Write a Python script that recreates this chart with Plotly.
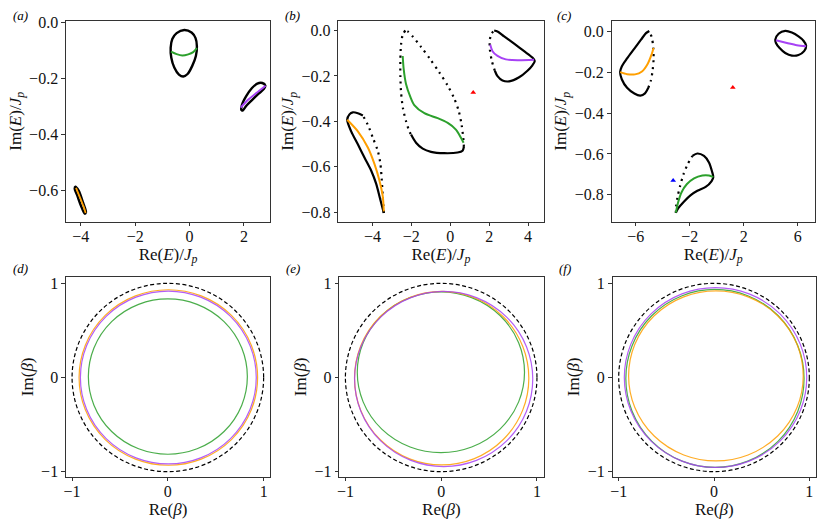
import plotly.graph_objects as go

# ---------------- top row: complex spectra E/Jp ----------------
# (a)
a_mid_x = [-0.195, 0.073, 0.22, 0.269, 0.232, 0.098, -0.073, -0.232, -0.391, -0.562, -0.672, -0.696, -0.635, -0.476, -0.195]
a_mid_y = [-0.027, -0.036, -0.056, -0.085, -0.120, -0.155, -0.184, -0.193, -0.186, -0.161, -0.126, -0.091, -0.059, -0.038, -0.027]
a_mid_gx = [-0.684, -0.476, -0.269, -0.049, 0.134, 0.269]
a_mid_gy = [-0.104, -0.113, -0.118, -0.114, -0.106, -0.092]
a_rt_x = [1.905, 1.929, 2.088, 2.295, 2.491, 2.674, 2.784, 2.735, 2.54, 2.295, 2.088, 1.954, 1.905]
a_rt_y = [-0.312, -0.293, -0.262, -0.234, -0.218, -0.216, -0.225, -0.237, -0.254, -0.277, -0.297, -0.314, -0.312]
a_rt_px = [1.88, 2.149, 2.454, 2.796]
a_rt_py = [-0.304, -0.276, -0.252, -0.226]
a_lf_x = [-4.20, -4.078, -3.919, -3.81, -3.858, -3.993, -4.139, -4.225, -4.20]
a_lf_y = [-0.586, -0.600, -0.642, -0.677, -0.682, -0.654, -0.615, -0.593, -0.586]
a_lf_ox = [-4.176, -4.029, -3.895, -3.822]
a_lf_oy = [-0.590, -0.625, -0.657, -0.680]

# (b)
b_lf_sx = [-4.492, -4.749, -5.005, -5.18, -5.297, -5.092, -4.749, -4.41, -4.067, -3.81, -3.59, -3.415]
b_lf_sy = [-0.374, -0.364, -0.360, -0.369, -0.393, -0.444, -0.501, -0.559, -0.616, -0.674, -0.746, -0.803]
b_lf_dx = [-3.415, -3.467, -3.518, -3.59, -3.723, -3.979, -4.236, -4.492]
b_lf_dy = [-0.803, -0.731, -0.660, -0.587, -0.530, -0.472, -0.415, -0.374]
b_lf_ox = [-5.297, -4.749, -4.236, -3.897, -3.641, -3.467, -3.415]
b_lf_oy = [-0.393, -0.444, -0.515, -0.587, -0.660, -0.731, -0.796]

b_mid_d1x = [-2.308, -2.444, -2.530, -2.564, -2.564, -2.530, -2.43, -2.27, -2.10, -2.015]
b_mid_d1y = [0.000, -0.019, -0.062, -0.127, -0.199, -0.271, -0.343, -0.400, -0.444, -0.458]
b_mid_sx = [-2.015, -1.759, -1.415, -0.99, -0.31, 0.376, 0.632, 0.701]
b_mid_sy = [-0.458, -0.494, -0.520, -0.534, -0.540, -0.537, -0.529, -0.512]
b_mid_d2x = [0.701, 0.667, 0.581, 0.444, 0.205, -0.137, -0.564, -1.026, -1.504, -1.932, -2.188, -2.308]
b_mid_d2y = [-0.512, -0.472, -0.414, -0.357, -0.299, -0.242, -0.184, -0.127, -0.072, -0.026, -0.004, 0.000]
b_mid_gx = [-2.444, -2.393, -2.274, -2.051, -1.85, -1.33, -0.646, -0.13, 0.29, 0.549, 0.684]
b_mid_gy = [-0.112, -0.170, -0.235, -0.292, -0.328, -0.364, -0.386, -0.407, -0.436, -0.472, -0.494]

b_rt_sx = [2.256, 2.427, 2.769, 3.282, 3.795, 4.222, 4.342, 4.222, 3.966, 3.538, 3.026, 2.684, 2.427, 2.291]
b_rt_sy = [0.000, -0.004, -0.026, -0.058, -0.091, -0.119, -0.134, -0.153, -0.177, -0.206, -0.224, -0.220, -0.201, -0.177]
b_rt_dx = [2.291, 2.137, 2.034, 2.034, 2.120, 2.256]
b_rt_dy = [-0.177, -0.134, -0.083, -0.040, -0.014, 0.000]
b_rt_px = [2.051, 2.171, 2.427, 2.855, 3.453, 4.308]
b_rt_py = [-0.062, -0.091, -0.112, -0.127, -0.131, -0.129]
b_red = (1.18, -0.273)

# (c)
c_lf_sx = [-5.000, -5.246, -5.614, -6.106, -6.646, -7.039, -7.162, -7.039, -6.646, -6.106, -5.663, -5.319, -5.074]
c_lf_sy = [0.003, -0.008, -0.040, -0.084, -0.132, -0.171, -0.199, -0.234, -0.276, -0.304, -0.314, -0.303, -0.276]
c_lf_dx = [-5.074, -4.877, -4.754, -4.681, -4.705, -4.803, -4.951, -5.000]
c_lf_dy = [-0.276, -0.239, -0.191, -0.135, -0.080, -0.032, -0.005, 0.003]
c_lf_ox = [-7.162, -6.646, -6.057, -5.541, -5.123, -4.828, -4.681]
c_lf_oy = [-0.199, -0.209, -0.210, -0.196, -0.159, -0.112, -0.081]

c_rt_x = [4.337, 4.582, 5.074, 5.565, 6.057, 6.425, 6.622, 6.474, 6.057, 5.565, 5.074, 4.656, 4.386, 4.337]
c_rt_y = [-0.040, -0.011, 0.003, -0.005, -0.024, -0.045, -0.069, -0.096, -0.115, -0.118, -0.105, -0.081, -0.056, -0.040]
c_rt_px = [4.386, 5.197, 5.934, 6.622]
c_rt_py = [-0.043, -0.056, -0.067, -0.072]

c_bt_sx = [-1.806, -1.437, -0.946, -0.577, -0.356, -0.258, -0.381, -0.823, -1.437, -1.929, -2.420, -2.838, -3.034]
c_bt_sy = [-0.610, -0.598, -0.610, -0.642, -0.685, -0.714, -0.733, -0.762, -0.781, -0.802, -0.833, -0.865, -0.889]
c_bt_dx = [-3.034, -3.010, -2.912, -2.715, -2.469, -2.174, -1.806]
c_bt_dy = [-0.889, -0.856, -0.813, -0.757, -0.701, -0.653, -0.610]
c_bt_gx = [-3.034, -2.862, -2.617, -2.224, -1.683, -1.069, -0.577, -0.258]
c_bt_gy = [-0.888, -0.837, -0.789, -0.749, -0.720, -0.706, -0.706, -0.714]
c_red = (1.19, -0.274)
c_blue = (-3.23, -0.730)

# ---------------- bottom row: GBZ curves (centre x, centre y, radius x, radius y) ----------------
gbz_names = ["green", "orange", "purple"]
d_cx = [0.0, 0.005, 0.005]
d_cy = [0.01, 0.0, 0.0]
d_rx = [0.83, 0.932, 0.918]
d_ry = [0.825, 0.932, 0.918]
e_cx = [-0.003, 0.005, 0.026]
e_cy = [0.055, -0.007, -0.016]
e_rx = [0.873, 0.91, 0.93]
e_ry = [0.853, 0.922, 0.93]
f_cx = [0.01, 0.02, 0.016]
f_cy = [-0.01, 0.017, 0.0]
f_rx = [0.935, 0.916, 0.957]
f_ry = [0.945, 0.903, 0.955]
unit_r = 1.0

top_xticks = {1: [-4, -2, 0, 2], 2: [-4, -2, 0, 2, 4], 3: [-6, -2, 2, 6]}
top_yticks = {1: [0.0, -0.2, -0.4, -0.6], 2: [0.0, -0.2, -0.4, -0.6, -0.8], 3: [0.0, -0.2, -0.4, -0.6, -0.8]}
top_xrange = {1: [-4.55, 2.97], 2: [-5.76, 4.8], 3: [-7.8, 7.28]}
top_yrange = {1: [-0.711, 0.006], 2: [-0.842, 0.043], 3: [-0.933, 0.053]}
bot_ticks = [-1, 0, 1]
panel_labels = ["(a)", "(b)", "(c)", "(d)", "(e)", "(f)"]

BLACK = "#000000"
COL = {"green": "#2ca02c", "orange": "#ff9f00", "purple": "#a742f5"}
FONT = "Liberation Serif"
DOTS = "2px,4.5px"

fig = go.Figure()


def add_line(x, y, ax, color, width, dash="solid"):
    fig.add_trace(go.Scatter(
        x=x, y=y, mode="lines", xaxis="x" + ax, yaxis="y" + ax,
        line=dict(color=color, width=width, dash=dash, shape="spline", smoothing=0.8),
        hoverinfo="skip", showlegend=False))


def add_marker(pt, ax, color):
    fig.add_trace(go.Scatter(
        x=[pt[0]], y=[pt[1]], mode="markers", xaxis="x" + ax, yaxis="y" + ax,
        marker=dict(symbol="triangle-up", size=5, color=color),
        hoverinfo="skip", showlegend=False))


# panel (a)
add_line(a_mid_x, a_mid_y, "", BLACK, 2.4)
add_line(a_mid_gx, a_mid_gy, "", COL["green"], 2)
add_line(a_rt_x, a_rt_y, "", BLACK, 2.4)
add_line(a_rt_px, a_rt_py, "", COL["purple"], 2)
add_line(a_lf_x, a_lf_y, "", BLACK, 2.4)
add_line(a_lf_ox, a_lf_oy, "", COL["orange"], 1.8)

# panel (b)
add_line(b_lf_sx, b_lf_sy, "2", BLACK, 2.2)
add_line(b_lf_dx, b_lf_dy, "2", BLACK, 2.2, DOTS)
add_line(b_lf_ox, b_lf_oy, "2", COL["orange"], 2)
add_line(b_mid_d1x, b_mid_d1y, "2", BLACK, 2.2, DOTS)
add_line(b_mid_sx, b_mid_sy, "2", BLACK, 2.2)
add_line(b_mid_d2x, b_mid_d2y, "2", BLACK, 2.2, DOTS)
add_line(b_mid_gx, b_mid_gy, "2", COL["green"], 2)
add_line(b_rt_sx, b_rt_sy, "2", BLACK, 2.2)
add_line(b_rt_dx, b_rt_dy, "2", BLACK, 2.2, DOTS)
add_line(b_rt_px, b_rt_py, "2", COL["purple"], 2)
add_marker(b_red, "2", "red")

# panel (c)
add_line(c_lf_sx, c_lf_sy, "3", BLACK, 2.2)
add_line(c_lf_dx, c_lf_dy, "3", BLACK, 2.2, DOTS)
add_line(c_lf_ox, c_lf_oy, "3", COL["orange"], 2)
add_line(c_rt_x, c_rt_y, "3", BLACK, 2.2)
add_line(c_rt_px, c_rt_py, "3", COL["purple"], 2)
add_line(c_bt_sx, c_bt_sy, "3", BLACK, 2.2)
add_line(c_bt_dx, c_bt_dy, "3", BLACK, 2.2, DOTS)
add_line(c_bt_gx, c_bt_gy, "3", COL["green"], 2)
add_marker(c_red, "3", "red")
add_marker(c_blue, "3", "blue")

# bottom row: ellipses as shapes in data coordinates
shapes = []
for ax, cx, cy, rx, ry in [("4", d_cx, d_cy, d_rx, d_ry), ("5", e_cx, e_cy, e_rx, e_ry), ("6", f_cx, f_cy, f_rx, f_ry)]:
    shapes.append(dict(type="circle", xref="x" + ax, yref="y" + ax,
                       x0=-unit_r, x1=unit_r, y0=-unit_r, y1=unit_r,
                       line=dict(color="black", width=1.2, dash="4px,2.5px")))
    for i, name in enumerate(gbz_names):
        shapes.append(dict(type="circle", xref="x" + ax, yref="y" + ax,
                           x0=cx[i] - rx[i], x1=cx[i] + rx[i],
                           y0=cy[i] - ry[i], y1=cy[i] + ry[i],
                           opacity=0.85, line=dict(color=COL[name], width=1.2)))
    # invisible point so the axes get drawn
    fig.add_trace(go.Scatter(x=[0], y=[0], mode="markers", xaxis="x" + ax, yaxis="y" + ax,
                             marker=dict(size=1, opacity=0), hoverinfo="skip", showlegend=False))

W, H = 817, 523
xdom = [[64 / W, 269 / W], [337 / W, 543 / W], [611 / W, 815 / W],
        [64 / W, 269 / W], [338 / W, 543 / W], [612 / W, 816 / W]]
ydom = [[1 - 219 / H, 1 - 14 / H]] * 3 + [[1 - 479 / H, 1 - 275 / H]] * 3

axis_common = dict(showgrid=False, zeroline=False, showline=True, mirror=True,
                   linecolor="#333333", linewidth=1, ticks="outside", ticklen=3.5,
                   tickcolor="#333333", tickfont=dict(family=FONT, size=16, color="#111111"))
title_font = dict(family=FONT, size=17, color="#111111")

layout = dict(width=W, height=H, margin=dict(l=0, r=0, t=0, b=0),
              paper_bgcolor="white", plot_bgcolor="white", showlegend=False,
              shapes=shapes)

re_e = "Re(<i>E</i>)/<i>J</i><sub><i>p</i></sub>"
im_e = "Im(<i>E</i>)/<i>J</i><sub><i>p</i></sub>"
for k in range(1, 7):
    sfx = "" if k == 1 else str(k)
    xa = dict(axis_common, domain=xdom[k - 1], anchor="y" + sfx, ticklabelstandoff=-4)
    ya = dict(axis_common, domain=ydom[k - 1], anchor="x" + sfx)
    if k <= 3:
        xa.update(range=top_xrange[k], tickvals=top_xticks[k],
                  title=dict(text=re_e, font=title_font, standoff=0))
        ya.update(range=top_yrange[k], tickvals=top_yticks[k], tickformat=".1f",
                  title=dict(text=im_e, font=title_font, standoff=3))
    else:
        xa.update(range=[-1.065, 1.07], tickvals=bot_ticks,
                  title=dict(text="Re(<i>β</i>)", font=title_font, standoff=0))
        ya.update(range=[-1.055, 1.07], tickvals=bot_ticks,
                  title=dict(text="Im(<i>β</i>)", font=title_font, standoff=3))
    layout["xaxis" + sfx] = xa
    layout["yaxis" + sfx] = ya

label_pos = [(19, 9), (291, 9), (563, 9), (19, 267), (292, 267), (564, 267)]
layout["annotations"] = [
    dict(text="<i>" + t + "</i>", x=px / W, y=1 - py / H, xref="paper", yref="paper",
         showarrow=False, xanchor="center", yanchor="middle",
         font=dict(family=FONT, size=13, color="black"))
    for t, (px, py) in zip(panel_labels, label_pos)
]

fig.update_layout(**layout)
# drop the default page margin so the figure sits at the window's corner
fig.write_html("out.html", config={"displayModeBar": False},
               post_script="document.body.style.margin='0';")
